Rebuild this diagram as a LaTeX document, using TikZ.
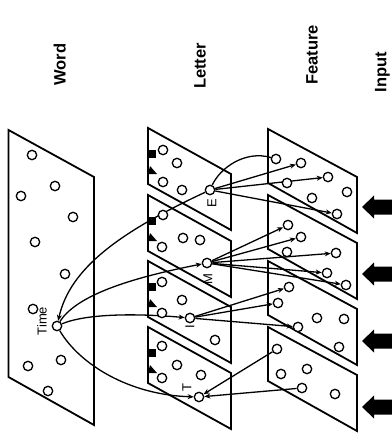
\documentclass[tikz,border=0pt]{standalone}
\usepackage{fontspec}
\setmainfont{Liberation Sans}
\usetikzlibrary{arrows.meta,backgrounds}
\begin{document}
\begin{tikzpicture}[x=1pt,y=-1pt,
  panel/.style={line width=1.8pt, line join=miter},
  unit/.style={circle, draw, line width=1.3pt, minimum size=9.4pt, inner sep=0pt, fill=white},
  conn/.style={line width=1.3pt},
  tip/.style={-{Stealth[length=6pt,width=5pt]}},
  lvl/.style={rotate=90, anchor=south, inner sep=0pt, font=\bfseries\fontsize{16.5}{16.5}\selectfont},
  lab/.style={rotate=90, inner sep=0pt, font=\fontsize{13}{13}\selectfont}]
\useasboundingbox (0,0) rectangle (391,436);

% level labels
\node[lvl] (lw) at (66,64.5) {Word};
\node[lvl] (ll) at (206,66) {Letter};
\node[lvl] (lf) at (318,55) {Feature};
\node[lvl] (li) at (390,72) {Input};

% word panel
\draw[panel] (8.5,130) -- (94,177) -- (94,425) -- (8.5,377) -- cycle;
% letter panels
\foreach \t in {128,195,261,327}{
  \draw[panel] (148,\t) -- (231,\t+46) -- (231,\t+102) -- (148,\t+56) -- cycle;
  \fill (148,\t+22) rectangle (156,\t+30);
  \fill (148,\t+46) -- (157,\t+46) -- (150,\t+38) -- cycle;
}
% feature panels
\foreach \t in {129,195,261,327}{
  \draw[panel] (268,\t) -- (357,\t+48) -- (357,\t+104) -- (268,\t+54) -- cycle;
}
% input arrows
\foreach \c in {207,274,341,407}{
  \fill (362,\c) -- (374,\c-11.5) -- (374,\c-7.5) -- (395,\c-7.5) -- (395,\c+7.5) -- (374,\c+7.5) -- (374,\c+11.5) -- cycle;
}

% word units
\foreach \p [count=\i] in {(32,155),(55,186),(21,196),(73,217),(35,242),(65,274),(33,309),(61,360),(28,366),(48,391)}
  \node[unit] (w\i) at \p {};
\node[unit] (time) at (57,326) {};
\node[lab] (ltime) at (42,321) {Time};

% letter units
\node[unit] (l1a) at (163,150) {};
\node[unit] (l1b) at (177,163) {};
\node[unit] (l1c) at (163,182) {};
\node[unit] (l1d) at (182,190) {};
\node[unit] (E) at (210,190) {};
\node[unit] (l2a) at (163,215) {};
\node[unit] (l2b) at (183,238) {};
\node[unit] (l2c) at (162,247) {};
\node[unit] (l2d) at (200,240) {};
\node[unit] (M) at (207,263) {};
\node[unit] (l3a) at (162,282) {};
\node[unit] (l3b) at (182,300) {};
\node[unit] (l3c) at (162,313) {};
\node[unit] (l3d) at (215,340) {};
\node[unit] (I) at (190,318) {};
\node[unit] (l4a) at (162,346) {};
\node[unit] (l4b) at (177,365) {};
\node[unit] (l4c) at (162,378) {};
\node[unit] (l4d) at (201,375) {};
\node[unit] (T) at (199,397) {};
\node[lab] (lE) at (212,203) {E};
\node[lab] (lM) at (208,279) {M};
\node[lab] (lI) at (190,327) {I};
\node[lab] (lT) at (187,388) {T};

% feature units
\node[unit] (f1a) at (276,159) {};
\node[unit] (f1b) at (301,163) {};
\node[unit] (f1c) at (287,183) {};
\node[unit] (f1d) at (328,177) {};
\node[unit] (f1e) at (312,198) {};
\node[unit] (f1f) at (347,192) {};
\node[unit] (f1g) at (337,214) {};
\node[unit] (f2a) at (288,225) {};
\node[unit] (f2b) at (301,237) {};
\node[unit] (f2c) at (287,252) {};
\node[unit] (f2d) at (336,253) {};
\node[unit] (f2e) at (327,273) {};
\node[unit] (f2f) at (346,285) {};
\node[unit] (f3a) at (289,287) {};
\node[unit] (f3b) at (278,303) {};
\node[unit] (f3c) at (298,327) {};
\node[unit] (f3d) at (317,318) {};
\node[unit] (f3e) at (344,319) {};
\node[unit] (f3f) at (339,347) {};
\node[unit] (f4a) at (277,349) {};
\node[unit] (f4b) at (281,374) {};
\node[unit] (f4c) at (307,369) {};
\node[unit] (f4d) at (302,388) {};
\node[unit] (f4e) at (335,394) {};

\begin{scope}[on background layer]
% word-letter connections
\draw[conn,tip] (E) .. controls (120,232) and (70,268) .. (time);
\draw[conn,tip] (time) .. controls (75,298) and (120,280) .. (M);
\draw[conn,tip] (time) .. controls (80,316) and (120,312) .. (I);
\draw[conn,tip] (time) .. controls (80,365) and (130,395) .. (T);
% letter-feature connections
\draw[conn] (E) .. controls (220,168) and (245,150) .. (f1a);
\draw[conn,tip] (E) -- (f1b);
\draw[conn,tip] (E) -- (f1d);
\draw[conn,tip] (E) -- (f1g);
\draw[conn,tip] (M) -- (f2a);
\draw[conn,tip] (M) -- (f2b);
\draw[conn,tip] (M) -- (f2d);
\draw[conn,tip] (M) -- (f2e);
\draw[conn,tip] (M) -- (f2f);
\draw[conn,tip] (I) -- (f3a);
\draw[conn,tip] (I) -- (f3b);
\draw[conn,tip] (I) -- (f3c);
\draw[conn,tip] (f4a) -- (T);
\draw[conn,tip] (f4d) -- (T);
\end{scope}
\end{tikzpicture}
\end{document}
